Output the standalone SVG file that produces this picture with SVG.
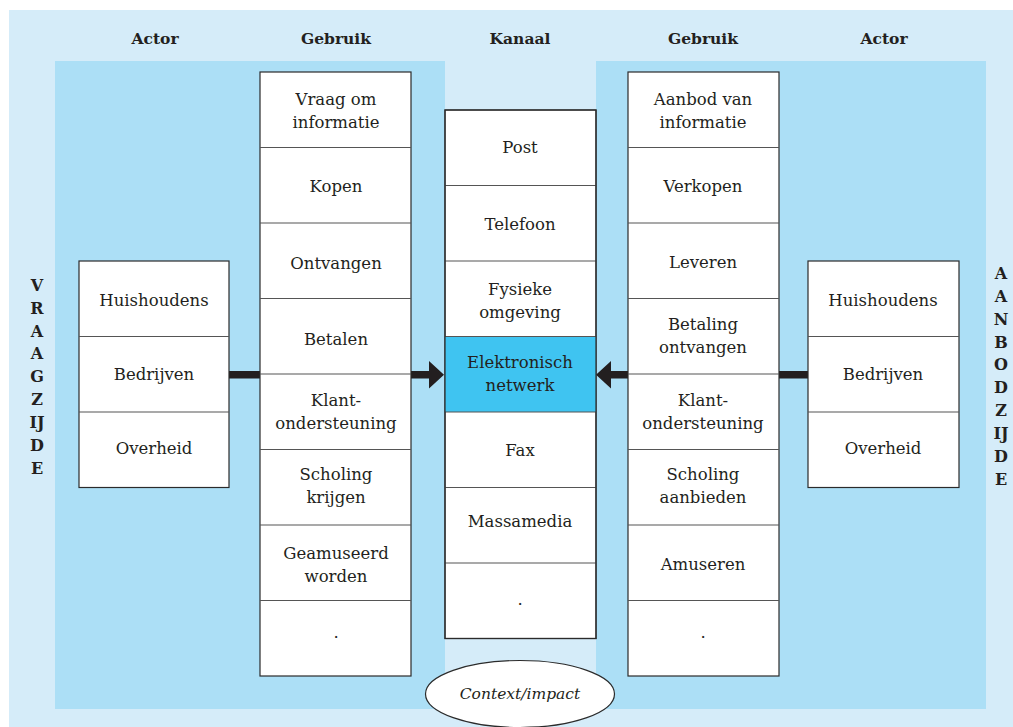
<svg xmlns="http://www.w3.org/2000/svg" width="1013" height="727" viewBox="0 0 1013 727">
<defs>
<style>
.bg{fill:#D5ECF9}
.panel{fill:#ACDFF6}
.box{fill:#FFFFFF;stroke:#2B2B2B;stroke-width:1.2}
.div{stroke:#555;stroke-width:1.1}
.hl{fill:#3FC4F1}
.t{font-family:"DejaVu Serif",serif;font-size:16.5px;fill:#231F20;text-anchor:middle}
.h{font-family:"DejaVu Serif",serif;font-size:15.5px;font-weight:bold;fill:#231F20;text-anchor:middle}
.v{font-family:"DejaVu Serif",serif;font-size:16px;font-weight:bold;fill:#231F20;text-anchor:middle}
.i{font-family:"DejaVu Serif",serif;font-size:15.5px;font-style:italic;fill:#231F20;text-anchor:middle}
.bar{fill:#231F20}
</style>
</defs>
<rect class="bg" x="9" y="10" width="1004" height="717"/>
<rect class="panel" x="55" y="61" width="390" height="648"/>
<rect class="panel" x="596" y="61" width="390" height="648"/>

<g id="headers">
<text class="h" x="155" y="44">Actor</text>
<text class="h" x="336" y="44">Gebruik</text>
<text class="h" x="520" y="44">Kanaal</text>
<text class="h" x="703" y="44">Gebruik</text>
<text class="h" x="884" y="44">Actor</text>
</g>

<g id="vraagzijde">
<text class="v" x="37" y="291">V</text>
<text class="v" x="37" y="314">R</text>
<text class="v" x="37" y="337">A</text>
<text class="v" x="37" y="359">A</text>
<text class="v" x="37" y="382">G</text>
<text class="v" x="37" y="405">Z</text>
<text class="v" x="37" y="428">IJ</text>
<text class="v" x="37" y="451">D</text>
<text class="v" x="37" y="474">E</text>
</g>
<g id="aanbodzijde">
<text class="v" x="1001" y="279">A</text>
<text class="v" x="1001" y="302">A</text>
<text class="v" x="1001" y="325">N</text>
<text class="v" x="1001" y="348">B</text>
<text class="v" x="1001" y="370">O</text>
<text class="v" x="1001" y="393">D</text>
<text class="v" x="1001" y="416">Z</text>
<text class="v" x="1001" y="439">IJ</text>
<text class="v" x="1001" y="462">D</text>
<text class="v" x="1001" y="485">E</text>
</g>

<g id="connectors">
<rect class="bar" x="229" y="371" width="32" height="7.5"/>
<path class="bar" d="M411,371 H429 V361 L444,374.7 L429,388.5 V378.5 H411 Z"/>
<rect class="bar" x="779" y="371" width="30" height="7.5"/>
<path class="bar" d="M628,371 H611 V361 L596,374.7 L611,388.5 V378.5 H628 Z"/>
</g>

<g id="actor-left">
<rect class="box" x="79" y="261" width="150" height="226.5"/>
<line class="div" x1="79" y1="336.5" x2="229" y2="336.5"/>
<line class="div" x1="79" y1="412" x2="229" y2="412"/>
<text class="t" x="154" y="306">Huishoudens</text>
<text class="t" x="154" y="380">Bedrijven</text>
<text class="t" x="154" y="454">Overheid</text>
</g>

<g id="gebruik-left">
<rect class="box" x="260" y="72" width="151" height="604"/>
<line class="div" x1="260" y1="147.5" x2="411" y2="147.5"/>
<line class="div" x1="260" y1="223" x2="411" y2="223"/>
<line class="div" x1="260" y1="298.5" x2="411" y2="298.5"/>
<line class="div" x1="260" y1="374" x2="411" y2="374"/>
<line class="div" x1="260" y1="449.5" x2="411" y2="449.5"/>
<line class="div" x1="260" y1="525" x2="411" y2="525"/>
<line class="div" x1="260" y1="600.5" x2="411" y2="600.5"/>
<text class="t" x="336" y="105">Vraag om</text>
<text class="t" x="336" y="128">informatie</text>
<text class="t" x="336" y="192">Kopen</text>
<text class="t" x="336" y="269">Ontvangen</text>
<text class="t" x="336" y="345">Betalen</text>
<text class="t" x="336" y="406">Klant-</text>
<text class="t" x="336" y="429">ondersteuning</text>
<text class="t" x="336" y="480">Scholing</text>
<text class="t" x="336" y="503">krijgen</text>
<text class="t" x="336" y="559">Geamuseerd</text>
<text class="t" x="336" y="582">worden</text>
<text class="t" x="336" y="638">.</text>
</g>

<g id="kanaal">
<rect class="box" x="445" y="110" width="151" height="528.5"/>
<rect class="hl" x="445" y="336.5" width="151" height="75.5"/>
<line class="div" x1="445" y1="185.5" x2="596" y2="185.5"/>
<line class="div" x1="445" y1="261" x2="596" y2="261"/>
<line class="div" x1="445" y1="336.5" x2="596" y2="336.5"/>
<line class="div" x1="445" y1="412" x2="596" y2="412"/>
<line class="div" x1="445" y1="487.5" x2="596" y2="487.5"/>
<line class="div" x1="445" y1="563" x2="596" y2="563"/>
<rect x="445" y="110" width="151" height="528.5" fill="none" stroke="#2B2B2B" stroke-width="1.2"/>
<text class="t" x="520" y="153">Post</text>
<text class="t" x="520" y="230">Telefoon</text>
<text class="t" x="520" y="295">Fysieke</text>
<text class="t" x="520" y="318">omgeving</text>
<text class="t" x="520" y="368">Elektronisch</text>
<text class="t" x="520" y="391">netwerk</text>
<text class="t" x="520" y="456">Fax</text>
<text class="t" x="520" y="527">Massamedia</text>
<text class="t" x="520" y="605">.</text>
</g>

<g id="gebruik-right">
<rect class="box" x="628" y="72" width="151" height="604"/>
<line class="div" x1="628" y1="147.5" x2="779" y2="147.5"/>
<line class="div" x1="628" y1="223" x2="779" y2="223"/>
<line class="div" x1="628" y1="298.5" x2="779" y2="298.5"/>
<line class="div" x1="628" y1="374" x2="779" y2="374"/>
<line class="div" x1="628" y1="449.5" x2="779" y2="449.5"/>
<line class="div" x1="628" y1="525" x2="779" y2="525"/>
<line class="div" x1="628" y1="600.5" x2="779" y2="600.5"/>
<text class="t" x="703" y="105">Aanbod van</text>
<text class="t" x="703" y="128">informatie</text>
<text class="t" x="703" y="192">Verkopen</text>
<text class="t" x="703" y="268">Leveren</text>
<text class="t" x="703" y="330">Betaling</text>
<text class="t" x="703" y="353">ontvangen</text>
<text class="t" x="703" y="406">Klant-</text>
<text class="t" x="703" y="429">ondersteuning</text>
<text class="t" x="703" y="480">Scholing</text>
<text class="t" x="703" y="503">aanbieden</text>
<text class="t" x="703" y="570">Amuseren</text>
<text class="t" x="703" y="638">.</text>
</g>

<g id="actor-right">
<rect class="box" x="808" y="261" width="151" height="226.5"/>
<line class="div" x1="808" y1="336.5" x2="959" y2="336.5"/>
<line class="div" x1="808" y1="412" x2="959" y2="412"/>
<text class="t" x="883" y="306">Huishoudens</text>
<text class="t" x="883" y="380">Bedrijven</text>
<text class="t" x="883" y="454">Overheid</text>
</g>

<g id="context">
<ellipse cx="520" cy="694" rx="94.5" ry="33.5" fill="#FFFFFF" stroke="#2B2B2B" stroke-width="1.2"/>
<text class="i" x="520" y="699">Context/impact</text>
</g>
</svg>
